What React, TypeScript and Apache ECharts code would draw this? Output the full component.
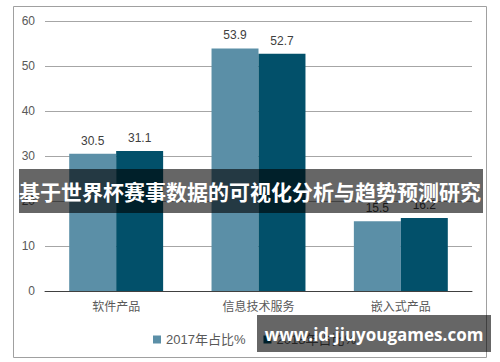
import React, { useEffect, useRef } from "react";
import * as echarts from "echarts";

const categories = ["软件产品", "信息技术服务", "嵌入式产品"];
const series2017 = [30.5, 53.9, 15.5];
const series2018 = [31.1, 52.7, 16.2];
const seriesNames = ["2017年占比%", "2018年占比%"];
const titleText = "基于世界杯赛事数据的可视化分析与趋势预测研究";
const watermarkText = "www.id-jiuyougames.com";

export default function App() {
  const ref = useRef<HTMLDivElement>(null);
  useEffect(() => {
    if (!ref.current) return;
    const chart = echarts.init(ref.current, null, { renderer: "svg" });
    const font = "'Liberation Sans', 'Noto Sans CJK SC', sans-serif";
    const labelStyle = {
      show: true,
      position: "top" as const,
      distance: 7,
      color: "#404040",
      fontSize: 12,
      fontFamily: font,
    };
    chart.setOption({
      animation: false,
      backgroundColor: "#ffffff",
      grid: { left: 45, right: 28, top: 21, bottom: 71 },
      legend: {
        left: 148,
        top: 328,
        itemWidth: 8,
        itemHeight: 8,
        itemGap: 18,
        icon: "rect",
        textStyle: { color: "#595959", fontSize: 13, fontFamily: font },
        data: seriesNames,
      },
      xAxis: {
        type: "category",
        data: categories,
        axisLine: { lineStyle: { color: "#404040", width: 1 } },
        axisTick: { show: false },
        axisLabel: { color: "#595959", fontSize: 12, margin: 10, fontFamily: font },
      },
      yAxis: {
        type: "value",
        min: 0,
        max: 60,
        interval: 10,
        axisLine: { show: false },
        axisTick: { show: false },
        axisLabel: { color: "#595959", fontSize: 12, margin: 10, fontFamily: font },
        splitLine: { lineStyle: { color: "#a6a6a6", width: 1 } },
      },
      series: [
        {
          name: seriesNames[0],
          type: "bar",
          data: series2017,
          barGap: "0%",
          barCategoryGap: "34%",
          itemStyle: { color: "#5b8fa7" },
          label: labelStyle,
        },
        {
          name: seriesNames[1],
          type: "bar",
          data: series2018,
          itemStyle: { color: "#02506a" },
          label: labelStyle,
        },
      ],
      graphic: [
        {
          type: "rect",
          z: 100,
          shape: { x: 13.5, y: 6.5, width: 473, height: 351 },
          style: { fill: "none", stroke: "#a0a0a0", lineWidth: 1 },
          silent: true,
        },
        {
          type: "rect",
          z: 100,
          shape: { x: 19, y: 169, width: 464, height: 44 },
          style: { fill: "rgba(0,0,0,0.6)" },
          silent: true,
        },
        {
          type: "text",
          z: 101,
          x: 250,
          y: 191,
          style: {
            text: titleText,
            fill: "#ffffff",
            font: "bold 21px 'Noto Sans CJK SC', sans-serif",
            align: "center",
            verticalAlign: "middle",
          },
          silent: true,
        },
        {
          type: "rect",
          z: 100,
          shape: { x: 257, y: 315, width: 234, height: 37 },
          style: { fill: "rgba(0,0,0,0.6)" },
          silent: true,
        },
        {
          type: "text",
          z: 101,
          x: 374,
          y: 334,
          style: {
            text: watermarkText,
            fill: "#ffffff",
            font: "bold 17px 'Open Sans', 'DejaVu Sans', sans-serif",
            align: "center",
            verticalAlign: "middle",
          },
          silent: true,
        },
      ],
    });
    return () => chart.dispose();
  }, []);
  return (
    <div
      ref={ref}
      style={{ position: "absolute", left: 0, top: 0, width: 500, height: 362 }}
    />
  );
}
